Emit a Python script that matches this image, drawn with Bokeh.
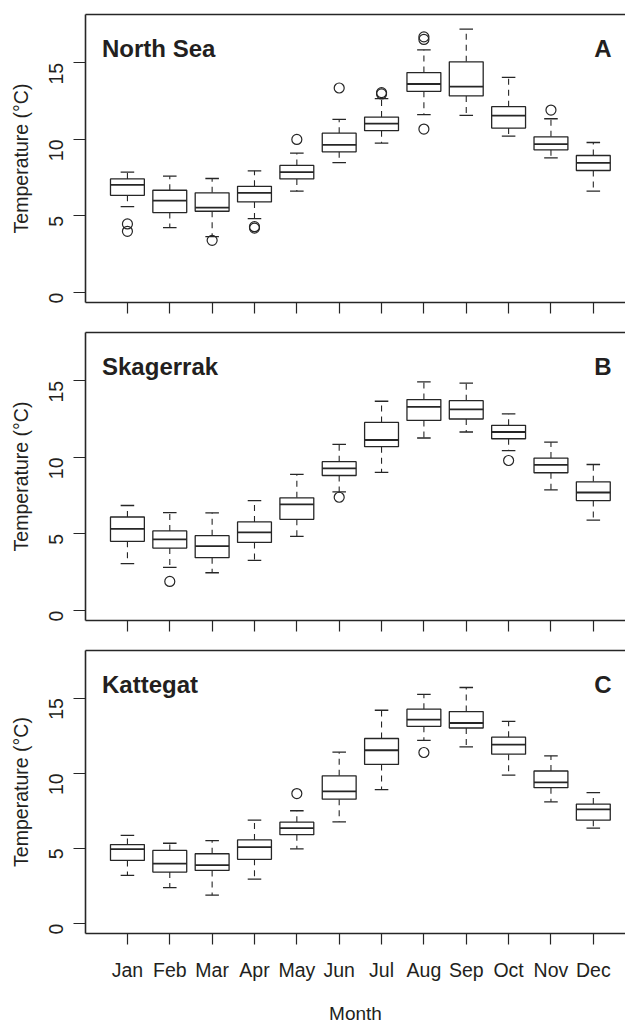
import math
import numpy as np
from bokeh.plotting import figure
from bokeh.layouts import column
from bokeh.models import Range1d, FixedTicker, LinearAxis, Label
from bokeh.embed import file_html
from bokeh.resources import INLINE

months = ["Jan", "Feb", "Mar", "Apr", "May", "Jun", "Jul", "Aug", "Sep", "Oct", "Nov", "Dec"]
month_pos = list(range(1, 13))
y_ticks = [0, 5, 10, 15]

# North Sea (panel A)
ns_low = [5.61, 4.24, 3.65, 4.83, 6.62, 8.49, 9.76, 11.62, 11.57, 10.22, 8.80, 6.62]
ns_q1 = [6.35, 5.22, 5.31, 5.92, 7.42, 9.19, 10.57, 13.14, 12.84, 10.74, 9.32, 7.97]
ns_med = [7.03, 6.00, 5.55, 6.51, 7.86, 9.65, 11.03, 13.62, 13.45, 11.55, 9.69, 8.47]
ns_q3 = [7.42, 6.68, 6.51, 6.94, 8.30, 10.41, 11.46, 14.37, 15.07, 12.14, 10.17, 8.95]
ns_high = [7.86, 7.60, 7.45, 7.95, 9.10, 11.31, 12.66, 15.85, 17.21, 14.06, 11.35, 9.80]
ns_out_month = [1, 1, 3, 4, 4, 5, 6, 7, 7, 8, 8, 8, 11]
ns_out_value = [4.48, 4.00, 3.41, 4.30, 4.21, 10.00, 13.36, 13.06, 12.97, 16.70, 16.53, 10.68, 11.92]

# Skagerrak (panel B)
sk_low = [3.06, 2.82, 2.47, 3.28, 4.85, 7.75, 9.02, 11.27, 11.66, 10.44, 7.88, 5.90]
sk_q1 = [4.52, 4.08, 3.45, 4.45, 5.96, 8.82, 10.70, 12.42, 12.51, 11.22, 9.00, 7.18]
sk_med = [5.33, 4.65, 4.21, 5.11, 6.94, 9.28, 11.14, 13.30, 13.14, 11.66, 9.52, 7.71]
sk_q3 = [6.11, 5.20, 4.89, 5.79, 7.36, 9.72, 12.29, 13.78, 13.71, 12.10, 9.96, 8.41]
sk_high = [6.86, 6.40, 6.38, 7.18, 8.89, 10.85, 13.67, 14.93, 14.85, 12.84, 11.00, 9.54]
sk_out_month = [2, 6, 10]
sk_out_value = [1.90, 7.40, 9.80]

# Kattegat (panel C)
ka_low = [3.21, 2.40, 1.90, 2.97, 4.98, 6.77, 8.91, 12.18, 11.75, 9.87, 8.10, 6.35]
ka_q1 = [4.21, 3.43, 3.54, 4.28, 5.92, 8.28, 10.59, 13.12, 13.01, 11.27, 9.04, 6.88]
ka_med = [4.96, 4.00, 3.89, 5.09, 6.35, 8.80, 11.53, 13.56, 13.34, 11.90, 9.39, 7.60]
ka_q3 = [5.26, 4.87, 4.65, 5.57, 6.75, 9.83, 12.31, 14.26, 14.10, 12.40, 10.15, 7.95]
ka_high = [5.87, 5.35, 5.52, 6.88, 7.51, 11.40, 14.19, 15.24, 15.70, 13.45, 11.16, 8.71]
ka_out_month = [5, 8]
ka_out_value = [8.65, 11.38]

FONT = "Liberation Sans"
INK = "#231f20"
LINE = "#262626"
BOX_W = 0.8
STAPLE_W = 0.32


def make_panel(name, letter, low, q1, med, q3, high, out_m, out_v, first, bottom):
    top_b = 14 if first else 6
    bot_b = 88 if bottom else 24
    p = figure(width=625, height=top_b + 288 + bot_b, output_backend="svg", toolbar_location=None,
               x_range=Range1d(0.01, 12.76), y_range=Range1d(-0.65, 18.16),
               min_border_left=85, min_border_right=0, min_border_top=top_b,
               min_border_bottom=bot_b)
    p.grid.visible = False
    p.outline_line_color = None
    p.background_fill_color = "white"
    p.border_fill_color = "white"

    x = np.array(month_pos, dtype=float)
    # whiskers
    p.segment(x0=x, x1=x, y0=q3, y1=high, line_color=LINE, line_width=1.1, line_dash="6 5")
    p.segment(x0=x, x1=x, y0=q1, y1=low, line_color=LINE, line_width=1.1, line_dash="6 5")
    # staples
    p.segment(x0=x - STAPLE_W / 2, x1=x + STAPLE_W / 2, y0=high, y1=high, line_color=LINE, line_width=1.3)
    p.segment(x0=x - STAPLE_W / 2, x1=x + STAPLE_W / 2, y0=low, y1=low, line_color=LINE, line_width=1.3)
    # boxes
    p.vbar(x=x, width=BOX_W, bottom=q1, top=q3, fill_color="white", line_color=LINE, line_width=1.3)
    # medians
    p.segment(x0=x - BOX_W / 2, x1=x + BOX_W / 2, y0=med, y1=med, line_color=LINE, line_width=1.8)
    # outliers
    p.scatter(x=out_m, y=out_v, marker="circle", size=10, fill_color=None, line_color=LINE, line_width=1.2)

    # y axis
    yax = p.yaxis[0]
    yax.ticker = FixedTicker(ticks=y_ticks)
    yax.minor_tick_line_color = None
    yax.major_tick_out = 12
    yax.major_tick_in = 0
    yax.major_tick_line_color = LINE
    yax.major_tick_line_width = 1.2
    yax.axis_line_color = LINE
    yax.axis_line_width = 1.6
    yax.major_label_orientation = math.pi / 2
    yax.major_label_standoff = 17
    yax.major_label_text_font = FONT
    yax.major_label_text_font_size = "19.5px"
    yax.major_label_text_color = INK
    yax.axis_label = "Temperature (°C)"
    yax.axis_label_text_font = FONT
    yax.axis_label_text_font_size = "19.5px"
    yax.axis_label_text_font_style = "normal"
    yax.axis_label_text_color = INK
    yax.axis_label_standoff = 8

    # x axis
    xax = p.xaxis[0]
    xax.ticker = FixedTicker(ticks=month_pos)
    xax.minor_tick_line_color = None
    xax.major_tick_out = 11
    xax.major_tick_in = 0
    xax.major_tick_line_color = LINE
    xax.major_tick_line_width = 1.2
    xax.axis_line_color = LINE
    xax.axis_line_width = 1.6
    if bottom:
        xax.major_label_overrides = {m: lab for m, lab in zip(month_pos, months)}
        xax.major_label_text_font = FONT
        xax.major_label_text_color = INK
        xax.major_label_text_font_size = "19.5px"
        xax.major_label_standoff = 14
        xax.axis_label = "Month"
        xax.axis_label_text_font = FONT
        xax.axis_label_text_font_size = "19px"
        xax.axis_label_text_font_style = "normal"
        xax.axis_label_text_color = INK
        xax.axis_label_standoff = 19
    else:
        xax.major_label_text_font_size = "0px"
        xax.major_label_text_color = None
        xax.major_label_standoff = 0

    top = LinearAxis(ticker=FixedTicker(ticks=[]), major_label_text_font_size="0px",
                     major_label_text_color=None,
                     major_label_standoff=0, major_tick_out=0, major_tick_in=0,
                     minor_tick_out=0, minor_tick_in=0,
                     axis_line_color=LINE, axis_line_width=1.6)
    p.add_layout(top, "above")

    p.add_layout(Label(x=0.40, y=15.92, text=name, text_font=FONT, text_font_size="24px",
                       text_font_style="bold", text_color=INK, text_align="left",
                       text_baseline="alphabetic"))
    p.add_layout(Label(x=12.43, y=15.92, text=letter, text_font=FONT, text_font_size="24px",
                       text_font_style="bold", text_color=INK, text_align="right",
                       text_baseline="alphabetic"))
    return p


pA = make_panel("North Sea", "A", ns_low, ns_q1, ns_med, ns_q3, ns_high, ns_out_month, ns_out_value, True, False)
pB = make_panel("Skagerrak", "B", sk_low, sk_q1, sk_med, sk_q3, sk_high, sk_out_month, sk_out_value, False, False)
pC = make_panel("Kattegat", "C", ka_low, ka_q1, ka_med, ka_q3, ka_high, ka_out_month, ka_out_value, False, True)

layout = column(pA, pB, pC, spacing=0)
open("out.html", "w").write(file_html(layout, INLINE))
